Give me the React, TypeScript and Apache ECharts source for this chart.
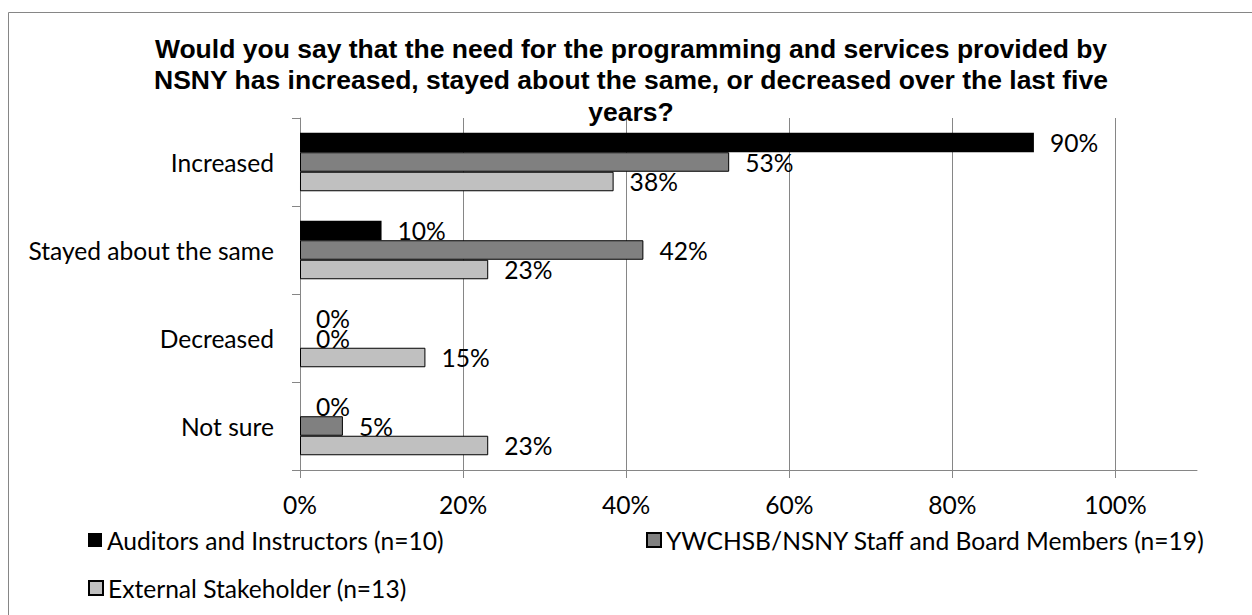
import React, { useEffect, useRef } from "react";
import * as echarts from "echarts";

// Survey responses, in percent of each respondent group
const categories = ["Increased", "Stayed about the same", "Decreased", "Not sure"];
const seriesNames = [
  "Auditors and Instructors (n=10)",
  "YWCHSB/NSNY Staff and Board Members (n=19)",
  "External Stakeholder (n=13)",
];
const auditors = [90, 10, 0, 0];
const staffBoard = [52.63, 42.11, 0, 5.26];
const stakeholders = [38.46, 23.08, 15.38, 23.08];
const xTicks = [0, 20, 40, 60, 80, 100];

const titleText =
  "Would you say that the need for the programming and services provided by\nNSNY has increased, stayed about the same, or decreased over the last five\nyears?";

const BODY_FONT = "Lato";
const BODY_SIZE = 24.6;
const AXIS_GRAY = "#868686";

export default function App() {
  const ref = useRef<HTMLDivElement>(null);

  useEffect(() => {
    if (!ref.current) return;
    const chart = echarts.init(ref.current, undefined, { renderer: "svg" });

    const colors = ["#000000", "#808080", "#C0C0C0"];
    const values = [auditors, staffBoard, stakeholders];

    const series = values.map((vals, i) => ({
      name: seriesNames[i],
      type: "bar" as const,
      barGap: "0%",
      barCategoryGap: "33.5%",
      data: vals.map((v) => ({
        value: v,
        itemStyle: v === 0 ? { borderWidth: 0 } : undefined,
      })),
      itemStyle: {
        color: colors[i],
        borderColor: "#000000",
        borderWidth: i === 0 ? 0 : 1,
      },
      label: {
        show: true,
        position: "right" as const,
        distance: 16,
        fontFamily: BODY_FONT,
        fontSize: BODY_SIZE,
        color: "#000",
        formatter: (p: any) => `${Math.round(p.value)}%`,
      },
    }));

    const legendText = { fontFamily: BODY_FONT, fontSize: BODY_SIZE, color: "#000", lineHeight: 28 };
    const legendBase = {
      orient: "horizontal" as const,
      icon: "rect",
      itemWidth: 14,
      itemHeight: 14,
      padding: 0,
      textStyle: legendText,
      selectedMode: false,
    };

    chart.setOption({
      animation: false,
      backgroundColor: "#ffffff",
      title: {
        text: titleText,
        left: 631,
        textAlign: "center",
        top: 33,
        padding: 0,
        textStyle: {
          fontFamily: "Liberation Sans, Arial",
          fontWeight: "bold",
          fontSize: 26.5,
          lineHeight: 31.5,
          color: "#000",
        },
      },
      graphic: [
        {
          type: "rect",
          shape: { x: 8.5, y: 12.5, width: 1260, height: 620 },
          style: { fill: "none", stroke: AXIS_GRAY, lineWidth: 1 },
          silent: true,
          z: -1,
        },
      ],
      legend: [
        { ...legendBase, left: 88, top: 526, data: [seriesNames[0]] },
        { ...legendBase, left: 646, top: 526, data: [seriesNames[1]] },
        { ...legendBase, left: 88, top: 574, data: [seriesNames[2]] },
      ],
      grid: { left: 300, top: 118, width: 897, height: 352, containLabel: false },
      xAxis: {
        type: "value",
        min: 0,
        max: 110,
        axisLine: { show: true, lineStyle: { color: AXIS_GRAY, width: 1 } },
        axisTick: { show: true, length: 8, lineStyle: { color: AXIS_GRAY }, customValues: xTicks },
        splitLine: { show: true, lineStyle: { color: AXIS_GRAY, width: 1 } },
        axisLabel: {
          customValues: xTicks,
          formatter: "{value}%",
          fontFamily: BODY_FONT,
          fontSize: BODY_SIZE,
          color: "#000",
          margin: 22,
        },
      },
      yAxis: {
        type: "category",
        inverse: true,
        data: categories,
        axisLine: { show: true, lineStyle: { color: AXIS_GRAY, width: 1 } },
        axisTick: { show: true, length: 8, lineStyle: { color: AXIS_GRAY } },
        splitLine: { show: false },
        axisLabel: {
          fontFamily: BODY_FONT,
          fontSize: BODY_SIZE,
          color: "#000",
          margin: 26,
        },
      },
      series,
    });

    return () => chart.dispose();
  }, []);

  return (
    <div
      ref={ref}
      style={{ position: "absolute", left: 0, top: 0, width: 1252, height: 615 }}
    />
  );
}
